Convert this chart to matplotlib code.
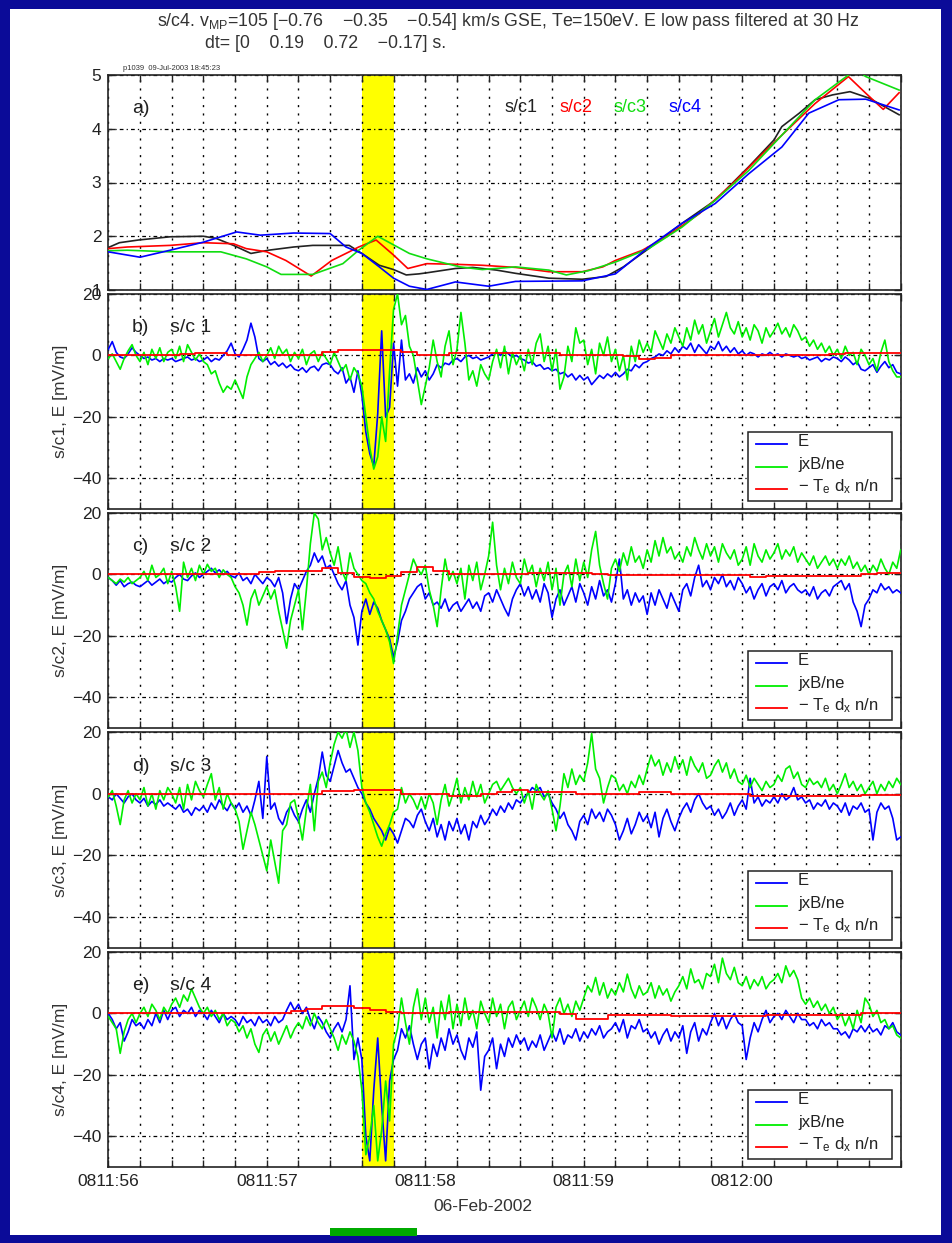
import numpy as np
import matplotlib.pyplot as plt
from matplotlib.patches import Rectangle
from matplotlib.lines import Line2D
from matplotlib.transforms import blended_transform_factory

plt.rcParams['font.family'] = ['Liberation Sans', 'DejaVu Sans']
plt.rcParams['mathtext.fontset'] = 'custom'
plt.rcParams['mathtext.rm'] = 'Liberation Sans'
plt.rcParams['mathtext.it'] = 'Liberation Sans:italic'

# ---------------- data ----------------
# panel a: curves (time in s after 08:11:56)
t_sc1 = [0, 0.07, 0.19, 0.39, 0.60, 0.68, 0.79, 0.90, 1.01, 1.17, 1.29, 1.52, 1.60, 1.71,
         1.80, 1.88, 1.96, 2.01, 2.19, 2.30, 2.45, 2.57, 2.78, 2.99, 3.14, 3.25, 3.41, 3.62,
         3.83, 4.04, 4.20, 4.25, 4.36, 4.46, 4.57, 4.68, 4.80, 4.88, 4.99]
y_sc1 = [1.79, 1.88, 1.93, 1.99, 2.00, 1.96, 1.83, 1.68, 1.74, 1.80, 1.83, 1.83, 1.68, 1.46,
         1.38, 1.28, 1.30, 1.32, 1.40, 1.42, 1.37, 1.31, 1.22, 1.20, 1.25, 1.43, 1.77, 2.24,
         2.67, 3.29, 3.79, 4.04, 4.29, 4.54, 4.63, 4.69, 4.57, 4.44, 4.26]
t_sc2 = [0, 0.12, 0.39, 0.60, 0.79, 0.87, 1.00, 1.12, 1.28, 1.41, 1.52, 1.58, 1.69, 1.80,
         1.89, 2.01, 2.17, 2.36, 2.57, 2.78, 2.99, 3.12, 3.20, 3.37, 3.52, 3.73, 3.94, 4.15,
         4.36, 4.46, 4.67, 4.78, 4.89, 4.99]
y_sc2 = [1.77, 1.80, 1.83, 1.88, 1.86, 1.77, 1.71, 1.55, 1.26, 1.55, 1.71, 1.80, 1.93, 1.65,
         1.40, 1.49, 1.48, 1.46, 1.42, 1.34, 1.34, 1.43, 1.55, 1.74, 1.99, 2.42, 2.98, 3.60,
         4.19, 4.47, 4.97, 4.66, 4.36, 4.67]
t_sc3 = [0, 0.12, 0.39, 0.71, 0.87, 1.00, 1.09, 1.29, 1.48, 1.58, 1.70, 1.90, 2.01, 2.22,
         2.36, 2.57, 2.78, 2.89, 3.03, 3.20, 3.41, 3.62, 3.83, 4.04, 4.25, 4.46, 4.67, 4.72,
         4.78, 4.99]
y_sc3 = [1.73, 1.74, 1.71, 1.71, 1.58, 1.43, 1.29, 1.29, 1.49, 1.74, 2.00, 1.68, 1.58, 1.43,
         1.38, 1.43, 1.37, 1.28, 1.36, 1.52, 1.77, 2.17, 2.67, 3.22, 3.88, 4.54, 5.00, 5.10,
         4.97, 4.72]
t_sc4 = [0, 0.20, 0.39, 0.60, 0.81, 0.96, 1.17, 1.40, 1.50, 1.60, 1.71, 1.80, 1.90, 2.01,
         2.19, 2.40, 2.57, 2.99, 3.20, 3.41, 3.62, 3.83, 4.04, 4.25, 4.42, 4.61, 4.78, 4.99]
y_sc4 = [1.71, 1.61, 1.74, 1.89, 2.08, 2.02, 2.06, 2.05, 1.80, 1.68, 1.43, 1.22, 1.07, 1.01,
         1.15, 1.07, 1.16, 1.17, 1.30, 1.80, 2.24, 2.61, 3.16, 3.66, 4.29, 4.54, 4.55, 4.35]

# panels b-e: E and jxB/ne every 0.025 s, -Te dx n/n every 0.1 s
b_E = [2, 4.5, 1, -0.5, -1, 0.5, 2.5, 1,
       0, -1, -0.5, -1.5, -1, -2, -1, -1.5,
       -1, -2, -1.5, -1, -0.5, -1.5, -1, -2,
       -1.5, -0.5, -2, -1, -1.5, 0, 1.5, 4,
       0.5, -0.5, 2, 5, 10.5, 6, -1, -2,
       -1, -3, -2, -3.5, -2.5, -4, -3, -4.5,
       -5, -4, -5.5, -4, -3.5, -5, -3, -2.5,
       -3, -5, -6, -4, -9, -7, -12, -5,
       -13, -25, -32, -36, -19, 8, -20, -17,
       4, -10, 5, -8, -6, -9, -4, -7,
       -5, -8, -6, -3, -4, -2.5, -3, -1.5,
       -1, -2, -0.5, 0, -1, -0.5, -1.5, -1,
       -0.5, 0.5, 1, 0, 1.5, 0.5, -0.5, 0,
       -1, -1.5, -2.5, -2, -3.5, -3, -4.5, -4,
       -5, -4.5, -6, -5.5, -7, -6, -8, -6.5,
       -8, -7, -9.5, -8, -6.5, -7.5, -6, -7,
       -5.5, -7, -6, -4.5, -5, -3, -4, -2.5,
       -2, -1, -0.5, 0.5, 0, 1.5, 0.5, 2.5,
       1, 3, 2, 4, 1, 3.5, 2, 0.5,
       3, 2, 4.5, 1.5, 3, 1, 2.5, 0.5,
       1.5, 0, 1, 0.5, -0.5, 0.5, 0, 1,
       0, 0.5, -0.5, 0.5, 0, -0.5, 0, -1,
       -0.5, -1.5, -1, -0.5, -2, -1, -1.5, -0.5,
       -1, -2, -0.5, -1.5, -3, -2, -4.5, -5,
       -4, -3, -5.5, -3.5, -2, -4, -3, -5.5,
       -6]
b_J = [-1, 0.5, -2, -4.5, -1, 1.5, 3.5, 0,
       -2, 1, -3, 2, -1, 2.5, -2, 1,
       2, -1, 3, -2, 3.5, 1, -1.5, 0.5,
       -2, -3, -6, -5, -9, -12, -10, -11,
       -8, -11, -14, -7, -3, -1, 1, -2,
       0, 2.5, -1, 3, 0.5, 2, -2, 1,
       -1, 2, -3, 0.5, 1.5, -2, 1, -1,
       -3, 1, -2, -5, -3, -8, -4, -6,
       -10, -20, -30, -37, -33, -20, -28, -5,
       15, 20, 10, 13, 3, 0, -8, -16,
       -10, -4, 5, -2, -7, 3, 8, -3,
       2, 14, 4, -8, -5, -10, -3, -6,
       -8, -2, 2, -4, 3, -6, 1, -3,
       0, -5, 2, -3, 4, 7, -2, 3,
       -5, 2, -11, -7, 3, -2, 9, 4,
       5, -3, 2, -6, 4, 0, 6, -2,
       2, -5, 0, -8, 3, -2, 5, 1,
       4, 1, 8, 5, 2, 7, 4, 9,
       6, 3, 9, 5, 11.5, 7, 10, 4,
       8, 12, 6, 10, 14, 9, 7, 11,
       6, 9, 5, 10, 8, 4, 9, 6,
       8, 10.5, 7, 9, 6, 10, 8, 5,
       6, 3, 5, 2, 4, 1, 3, 0,
       2, -1, 3, 0, 1, -3, 2, 0,
       -3, -1, -5, 1, 5, -2, -5, -7,
       -7]
b_red = [0, 0, 0, 0, 0, 0.5, 0.8, 0.8, 0.3, 0.3,
         0.3, 0.3, 0.3, 0.3, 1.2, 1.8, 1.9, 1.9, 1.9, 1.0,
         0.3, 0.3, 0.8, 0.8, 0.8, 0.8, 0.8, 0.8, 0.8, 0.3,
         0.3, 0, 0, -0.3, -1, -0.8, 0, 0, 0, 0,
         0, 0, 0, 0, 0, 0, 0.5, 0.8, 0.8, 0.8,
         0.8]

c_E = [-1, -2, -3.5, -2, -4, -3, -2.5, -3.5,
       -4, -3, -2, -3.5, -2.5, -1.5, -3, -2,
       -2.5, -1, 0, -1.5, -2, -0.5, 0.5, -1,
       0, 1, 2, 0.5, 1.5, 0, 1, -0.5,
       -1, 0.5, -2, -1, -3, 0, -1.5, -3,
       -1, -2, -4, -1, -6, -16, -8, -3,
       -5, -2, 1, 3, 7, 4, 6, 2,
       3, 0, -3, -5, -2, -10, -14, -23,
       -12, -8, -13, -9, -11, -15, -18, -21,
       -27, -22, -15, -12, -8, -6, -4, -3,
       -8, -6, -10, -9, -11, -8, -12, -10,
       -9, -12, -10, -8, -11, -9, -12, -7,
       -6, -9, -5, -8, -11, -13.5, -8, -5,
       -3, -7, -4, -8, -5, -9, -3, -6,
       -14, -8, -5, -10, -7, -4, -9, -3,
       -6, -10, -4, -8, -2, -7, -5, -9,
       -3, 5, -8, -5, -10, -6, -9, -7,
       -13, -6, -10, -5, -8, -11, -6, -9,
       -12, -5, -3, -7, -1, 3, -4, -2,
       -5, -1, -3, 0, -4, -2, -5, -1,
       -3, -6, -4, -8, -5, -3, -7, -4,
       -3, -5, -2, -6, -4, -3, -5, -6,
       -5, -7, -4, -8, -6, -5, -7, -4,
       -3, -2, -5, -3, -9, -12, -17, -10,
       -8, -5, -6, -3, -5, -4, -6, -5,
       -6]
c_J = [-1, -2, -3, -1.5, -2.5, -1, -3, -2,
       -1, 1, -2, 3, -1, 0, 2, -3,
       1, -4, -12, 4, -1, 2, -2, 3,
       0, 3.3, 1, 2, -1, 1.5, 0, -1,
       -4, -6, -10, -16.5, -8, -5, -10, -7,
       -4, -8, -5, -12, -18, -24, -15, -10,
       -5, -18, -5, 10, 20, 18, 8, 12,
       7, 3, 9, 1, -2, 7, 2, 0,
       -2, -3, -6, -8, -12, -15, -18, -22,
       -29, -20, -10, -5, 0, 5, 2, 0,
       3, -5, -10, -17, -5, 5, -2, 1,
       -3, 2, -8, 3, -2, 4, -5, 0,
       6, 17, 3, -5, 2, -3, 4, -1,
       -3, 5, 0, 3, -4, 2, -2, 4,
       -5, 2, -10, 0, 3, -4, 5, -2,
       4, -1, 8, 14, 3, -3, -8, 2,
       5, 1, 7, 3, 9, 4, 6, 2,
       8, 4, 11, 6, 12, 7, 9, 5,
       7, 4, 9, 6, 12, 8, 5, 10,
       6, 9, 4, 10, 7, 5, 8, 3,
       5, 9, 3, 10, 6, 4, 8, 5,
       7, 10, 5, 8, 6, 9, 4, 7,
       5, 3, 6, 2, 4, 6, 3, 5,
       2, 5, 3, 6, 2, 4, 1, 3,
       0, 3, 1, 5, 2, 0, 4, 2,
       8]
c_red = [0, 0, 0, 0, 0, 0, 0, 0, 0, 0.3,
         0.8, 1, 1, 1.2, 2, 0.5, -0.8, -1, -0.5, 0.8,
         2.5, 1, 0, 0, 0, 0, 0.3, 0.5, 0.5, 0.5,
         0.5, 0, -0.3, -0.3, -0.3, -0.3, -0.3, -0.3, -0.3, -0.3,
         -0.3, -0.9, -0.5, -0.5, -0.5, -0.5, -0.5, -0.5, 0.3, 0.5,
         0.5]

d_E = [-1, -2, 0, -1.5, -3, -1, 0, -2,
       -3, -1.5, -4, -2.5, -3.5, -2, -4, -3,
       -4, -5, -3.5, -6, -5, -7, -4.5, -5.5,
       -4, -6, -3, -5, -2, -4, -5.5, -3,
       -5, -3, -6, -4, -7, -2, 4, -8,
       12, -5, -3, -8, -10, -6, -4, -7,
       -9, -5, -2, -6, 0, 5, 13.5, 6,
       4, 9, 14, 10, 7, 8, 5, 2,
       0, -3, -5, -8, -10, -12, -15, -11,
       -13, -16, -12, -8, -9, -11, -7, -5,
       -9, -12, -8, -14, -10, -15, -9, -12,
       -8, -13, -10, -15, -9, -11, -7, -10,
       -8, -5, -7, -4, -6, -3, -5, -2,
       -3, -1, 0, 2, 1, 2, -1, 0,
       -3, -5, -8, -6, -10, -12, -15, -9,
       -7, -10, -5, -8, -6, -9, -5, -7,
       -10, -15, -12, -8, -13, -10, -6, -9,
       -7, -11, -6, -14, -8, -5, -9, -12,
       -8, -5, -3, -6, -2, 0, -3, -5,
       -4, -7, -5, -8, -6, -3, -7, -4,
       -2, -5, 5, -3, -1, -4, -2, -3,
       -1, -3, 0, -2, -1, 2, -2, -1,
       -3, -2, -5, -3, -4, -2, -5, -3,
       -4, -6, -3, -7, -4, -5, -3, -6,
       -5, -15, -6, -3, -5, -4, -8, -15,
       -14]
d_J = [-1, 1, -4, -10, -2, 1, -3, 0,
       -2, 2, -4, 0, -5, 1, -2, 2,
       0, -3, 2, -5, 3, -2, 4, 1,
       -1, 3, 6.5, -2, 2, -5, 0, -3,
       -5, -9, -18, -12, -6, -10, -15, -20,
       -25, -15, -22, -29, -12, -10, -3, -2,
       -8, -15, -5, 3, -12, 4, 7, 2,
       10, 16, 20, 18, 21, 15, 20, 14,
       2, -3, -6, -10, -14, -17, -13, -10,
       -6, -5, 2, -3, 0, -2, -5, -1,
       -5, 0, -3, -10, -2, 3, -4, 0,
       5, -3, 2, -2, 4, -1, 3, -3,
       0, 3, 4, 1, 3, 5, 2, 0,
       2, -3, 1, -5, 3, 0, -2, 1,
       -5, -12, -4, 6.5, 2, 8, 3, 6,
       4, 10, 19.5, 8, 5, -3, 2, 6,
       5, 1, 3, 0, 4, 2, 6, 3,
       8, 12.5, 9, 11, 6, 10, 7, 12,
       8, 11, 6, 12, 9, 7, 10, 5,
       6, 9, 11, 7, 10, 5, 8, 4,
       3, 6, 2, 5, 3, 1, 4, 2,
       3, 6, 4, 8, 9, 5, 7, 3,
       2, 5, 3, 4, 2, 5, 1, 3,
       0, 3, 6.5, 2, 4, 1, 3, 0,
       2, 4, 0, 3, 1, 4, 2, 5,
       3]
d_red = [0, 0, 0, 0, 0, 0, 0, 0, 0, 0,
         0, 0, 0, 0, 0.8, 0.8, 1.3, 1.3, 1.3, 0,
         0, 0, -0.9, -0.9, 0, 0.5, 1.1, 0.5, 0.5, 0.5,
         0, 0, 0, 0, 0.5, 0.5, -0.2, -0.2, -0.2, -0.2,
         -0.2, -0.9, -0.9, -0.9, -0.9, -0.9, -0.9, -0.9, -0.4, -0.4,
         -0.4]

e_E = [0, -2, -5, -3, -9, -6, -2, -4,
       -3, -5, -2, -4, 0, -3, 1, -2,
       1, 2, -1, 1, 0, 2, -1, 1,
       0, -2, 1, -1, -3, 0, -2, -1,
       -2, -4, -1, -3, -2, -4, -1, -3,
       -2, -4, -1, -3, -2, 1, 3.6, 1,
       3, 0, 2, -2, -5, -1, -3, -6,
       -8, -5, -3, -6, -2, 9, -15, -8,
       -15, -40, -48, -25, -8, -30, -48, -22,
       -15, -12, -5, -8, -4, -10, -15, -10,
       -8, -18, -10, -14, -8, -12, -5, -10,
       -7, -12, -15, -8, -11, -6, -25, -14,
       -12, -8, -18, -10, -14, -8, -11, -7,
       -10, -8, -12, -9, -11, -7, -12, -9,
       -6, -9, -5, -10, -7, -8, -5, -9,
       -6, -8, -5, -7, -4, -8, -6, -5,
       -3, -6, -2, -8, -4, -5, -2, -6,
       -5, -8, -6, -10, -7, -5, -9, -6,
       -8, -4, -13, -6, -3, -9, -5, -7,
       -3, 0, -4, -1, -5, -2, 0, -3,
       -4, -15, -8, -3, -6, -2, 1, -3,
       -1, 0, -2, 1, -1, -3, 0, -2,
       -2, -4, -3, -5, -2, -4, -3, -5,
       -5, -7, -6, -8, -5, -6, -4, -6,
       -4, -6, -5, -7, -4, -5, -3, -6,
       -7]
e_J = [-1, -3, -5, -13, -6, -2, 0, -3,
       0, 2, -1, 3, 1, -2, 2, 0,
       3, 5, 2, 6, 4, 8, 5, 2,
       0, 2, -1, 1, -2, 0, -4, -2,
       -3, -6, -4, -8, -5, -10, -12.7, -7,
       -5, -9, -6, -10, -7, -4, -8, -5,
       -3, -5, -1, -4, 0, -3, -5, -2,
       -5, -8, -12, -7, -10, -6, -9, -14,
       -25, -46, -40, -30, -48, -38, -22, -35,
       -10, -5, 5, -3, -10, 2, 8, -2,
       5, -3, 2, -8, 4, -2, 6, -5,
       3, -4, 5, -2, 1, -5, 4, 0,
       -3, 5, -1, 3, -5, 2, 4, -2,
       1, 4, -1, 5, 2, -2, 3, 0,
       -8, 2, 5, 0, 3, -1, 4, 1,
       5, 9, 7, 11.7, 6, 10, 5, 8,
       6, 10, 7, 12.8, 8, 5, 9, 6,
       7, 10, 5, 9, 6, 8, 4, 7,
       9, 12, 8, 14.5, 10, 11, 8, 13,
       12, 16, 10, 18, 13, 11, 15, 10,
       9, 12, 8, 11, 9, 12, 8, 10,
       11, 13, 10, 15.5, 12, 14, 11, 5,
       3, 5, 2, 4, 1, 3, 0, 2,
       -2, 0, -4, -1, -5, 1, -3, 5,
       3, -1, 1, -3, -2, -5, -4, -7,
       -8]
e_red = [0, 0, 0, 0, 0, 0, 0, 0, 0, 0.3,
         0.3, 0.3, 0.9, 1.4, 2.3, 2.3, 1.7, 1.1, 0.5, 0.3,
         0.3, 0.3, 0.5, 0.5, 0.5, 0.5, 0.5, 0.5, 0.5, -0.2,
         -1.8, -1.8, -0.5, -0.5, -0.5, -0.5, -1, -1, -1, -1,
         -1, -1, -0.5, -0.5, -0.5, -0.5, -0.5, -0.5, 0, 0,
         0]

sc_names = ['s/c1', 's/c2', 's/c3', 's/c4']
panel_tags = ['b)', 'c)', 'd)', 'e)']
panel_sc = ['s/c 1', 's/c 2', 's/c 3', 's/c 4']
ylabels = ['s/c1, E [mV/m]', 's/c2, E [mV/m]', 's/c3, E [mV/m]', 's/c4, E [mV/m]']
xtick_names = ['0811:56', '0811:57', '0811:58', '0811:59', '0812:00']
legend_labels = ['E', 'jxB/ne', r'$-$ T$_\mathrm{e}$ d$_\mathrm{x}$ n/n']
band = (1.6, 1.8)          # highlighted interval, s
bar = (1.40, 1.95)         # green bar under the plot, s

# ---------------- style ----------------
NAVY = '#0b0b98'
BLUE, GREEN, RED = '#0000ff', '#00ee00', '#ff0000'
sc_colors = ['#222222', RED, '#11dd11', BLUE]
W, H = 952, 1243
L, R = 108.3, 900.7
tops = [75, 294, 513, 732, 952]
bots = [290, 509, 728, 948, 1167]


def fx(px):
    return px / W


def fy(py):
    return 1 - py / H


fig = plt.figure(figsize=(W / 100, H / 100), dpi=100, facecolor=NAVY)
fig.patches.append(Rectangle((fx(10), fy(1235)), fx(941) - fx(10), fy(9) - fy(1235),
                             transform=fig.transFigure, fc='white', ec='none', zorder=-5))

axes = []
for top, bot in zip(tops, bots):
    ax = fig.add_axes([fx(L), fy(bot), fx(R) - fx(L), fy(top) - fy(bot)])
    axes.append(ax)


def style_axis(ax):
    ax.set_xlim(0, 5)
    ax.set_xticks(np.arange(0, 5.001, 0.2))
    ax.axvspan(band[0], band[1], color='#ffff00', zorder=0.5, lw=0)
    ax.xaxis.grid(True, color='k', linestyle=(0, (1.5, 4.5)), lw=1.0)
    ax.yaxis.grid(True, color='k', linestyle=(0, (3, 2.5, 1, 2.5)), lw=0.9)
    ax.tick_params(direction='in', top=True, right=True, length=5, width=1.0,
                   labelsize=12.5, pad=5, colors='#222222', labelcolor='#222222')
    for s in ax.spines.values():
        s.set_linewidth(1.2)
        s.set_color('#222222')


# panel a
ax = axes[0]
style_axis(ax)
ax.set_ylim(1, 5)
ax.set_yticks([1, 2, 3, 4, 5])
for tt, yy, c in zip([t_sc1, t_sc2, t_sc3, t_sc4], [y_sc1, y_sc2, y_sc3, y_sc4], sc_colors):
    ax.plot(tt, yy, color=c, lw=1.2, zorder=3)
ax.tick_params(labelbottom=False)
ax.text(0.030, 0.842, 'a)', transform=ax.transAxes, fontsize=14, va='center', color='#222222')
for k, (name, c) in enumerate(zip(sc_names, sc_colors)):
    ax.text(2.50 + 0.345 * k, 4.39, name, color=c, fontsize=13, va='center')
fig.text(fx(123), fy(69), 'p1039  09-Jul-2003 18:45:23', fontsize=5.5, va='center', color='#333333')


def add_legend(ax):
    x0, x1 = (748.3 - L) / (R - L), (892.3 - L) / (R - L)
    ph = 215.0
    y0, y1 = 8 / ph, 76.7 / ph
    ax.add_patch(Rectangle((x0, y0), x1 - x0, y1 - y0, transform=ax.transAxes,
                           fc='white', ec='#222222', lw=1.1, zorder=6))
    rows = [65 / ph, 42 / ph, 20 / ph]
    lx0, lx1, tx = (756 - L) / (R - L), (787 - L) / (R - L), (798 - L) / (R - L)
    for yr, c, lab in zip(rows, [BLUE, GREEN, RED], legend_labels):
        ax.add_line(Line2D([lx0, lx1], [yr, yr], transform=ax.transAxes, color=c, lw=1.3, zorder=7))
        ax.text(tx, yr + 0.01, lab, transform=ax.transAxes, fontsize=12, va='center',
                color='#222222', zorder=7)


panel_data = [(b_E, b_J, b_red), (c_E, c_J, c_red), (d_E, d_J, d_red), (e_E, e_J, e_red)]

for i, (E, J, red) in enumerate(panel_data):
    ax = axes[i + 1]
    style_axis(ax)
    ax.set_ylim(-50, 20)
    ax.set_yticks([-40, -20, 0, 20])
    ax.set_yticklabels(['\u221240', '\u221220', '0', '20'])
    ax.plot(np.arange(len(E)) * 0.025, E, color=BLUE, lw=1.2, zorder=3)
    ax.plot(np.arange(len(J)) * 0.025, J, color=GREEN, lw=1.2, zorder=3)
    ax.plot(np.arange(len(red)) * 0.1, red, color=RED, lw=1.3, drawstyle='steps-mid', zorder=4)
    ax.text(0.030, 0.842, panel_tags[i], transform=ax.transAxes, fontsize=14, va='center', color='#222222')
    ax.text(0.078, 0.842, panel_sc[i], transform=ax.transAxes, fontsize=14, va='center', color='#222222')
    ax.set_ylabel(ylabels[i], fontsize=12.5, color='#333333')
    ax.yaxis.set_label_coords(-0.051, 0.5)
    add_legend(ax)
    if i < 3:
        ax.tick_params(labelbottom=False)

ax_e = axes[-1]
ax_e.set_xticklabels([xtick_names[int(round(t))] if abs(t - round(t)) < 1e-6 and round(t) < len(xtick_names)
                      else '' for t in np.arange(0, 5.001, 0.2)])
ax_e.set_xlabel('06-Feb-2002', fontsize=12.5, color='#333333')
ax_e.xaxis.set_label_coords((483 - L) / (R - L), -0.15)

# green bar under the plot (marks the interval in time units)
trans = blended_transform_factory(ax_e.transData, fig.transFigure)
fig.patches.append(Rectangle((bar[0], fy(1236)), bar[1] - bar[0], fy(1228) - fy(1236),
                             transform=trans, fc='#00aa00', ec='none', zorder=5))

# title lines
fig.text(fx(157), fy(21),
         's/c4. v$_{\\mathrm{MP}}$=105 [\u22120.76    \u22120.35    \u22120.54] km/s GSE, '
         'Te=150eV. E low pass filtered at 30 Hz',
         fontsize=12.8, va='center', ha='left', color='#333333')
fig.text(fx(205), fy(43), 'dt= [0    0.19    0.72    \u22120.17] s.',
         fontsize=12.8, va='center', ha='left', color='#333333')

fig.savefig('out.png', dpi=100, facecolor=NAVY)
